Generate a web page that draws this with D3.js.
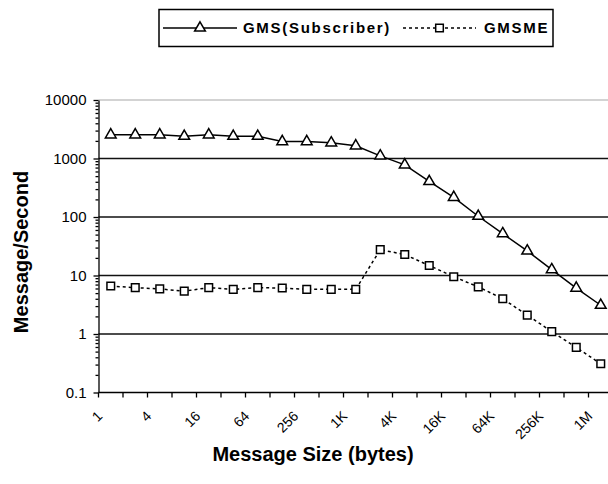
<!DOCTYPE html>
<html>
<head>
<meta charset="utf-8">
<script src="https://d3js.org/d3.v7.min.js"></script>
<style>
  body { margin: 0; background: #fff; }
  svg { display: block; }
  text { font-family: Arial, "Liberation Sans", sans-serif; fill: #000; }
</style>
</head>
<body>
<div id="chart"></div>
<script>
  // message sizes (bytes), one category per power of two
  var sizes = ["1", "2", "4", "8", "16", "32", "64", "128", "256", "512", "1K", "2K", "4K", "8K", "16K", "32K", "64K", "128K", "256K", "512K", "1M"];
  var gmsSubscriber = [2540, 2540, 2540, 2400, 2540, 2400, 2400, 1950, 1950, 1850, 1650, 1110, 780, 405, 217, 103, 52, 26.3, 12.6, 6.1, 3.1];
  var gmsme = [6.6, 6.2, 5.9, 5.4, 6.2, 5.8, 6.2, 6.1, 5.8, 5.8, 5.8, 27.7, 22.8, 14.8, 9.5, 6.4, 4.0, 2.1, 1.1, 0.59, 0.31];
  var yTicks = [0.1, 1, 10, 100, 1000, 10000];
  var seriesNames = ["GMS(Subscriber)", "GMSME"];

  var width = 608, height = 484,
    margin = {top: 100, left: 98.5, bottom: 91.5},
    plotRight = 613;

  var svg = d3.select("#chart").append("svg")
    .attr("width", width)
    .attr("height", height);

  var x = d3.scaleBand().domain(sizes).range([margin.left, plotRight]);
  var y = d3.scaleLog().domain([0.1, 10000]).range([height - margin.bottom, margin.top]);
  var cx = function (d, i) { return x(sizes[i]) + x.bandwidth() / 2; };

  // horizontal gridlines
  svg.append("g").selectAll("line")
    .data(yTicks.slice(1))
    .enter().append("line")
    .attr("x1", margin.left).attr("x2", plotRight)
    .attr("y1", function (d) { return y(d); })
    .attr("y2", function (d) { return y(d); })
    .attr("stroke", function (d) { return d === 10000 ? "#c4c4c4" : "#111"; })
    .attr("stroke-width", function (d) { return d === 10000 ? 1.5 : 1.6; });

  // y axis with minor log ticks
  var minor = [];
  for (var e = -1; e < 4; e++) {
    for (var k = 2; k < 10; k++) minor.push(k * Math.pow(10, e));
  }
  svg.append("g")
    .attr("transform", "translate(" + margin.left + ",0)")
    .call(d3.axisLeft(y).tickValues(minor).tickSize(3).tickFormat(""))
    .call(function (g) { g.select(".domain").remove(); });

  var yAxis = svg.append("g")
    .attr("transform", "translate(" + margin.left + ",0)")
    .call(d3.axisLeft(y).tickValues(yTicks).tickSize(5).tickSizeOuter(0)
      .tickFormat(function (d) { return String(d); }));
  yAxis.selectAll("text").attr("font-size", 15).attr("x", -12).attr("font-family", "Arial, 'Liberation Sans', sans-serif");
  svg.selectAll(".tick line, .domain").attr("stroke", "#000").attr("stroke-width", 1.3);

  // x axis: ticks at category boundaries, labels every other category
  var xBase = y(0.1);
  svg.append("line")
    .attr("x1", margin.left).attr("x2", plotRight)
    .attr("y1", xBase).attr("y2", xBase)
    .attr("stroke", "#000").attr("stroke-width", 1.6);
  svg.append("g").selectAll("line")
    .data(sizes)
    .enter().append("line")
    .attr("x1", function (d) { return x(d); })
    .attr("x2", function (d) { return x(d); })
    .attr("y1", xBase).attr("y2", xBase + 5)
    .attr("stroke", "#000").attr("stroke-width", 1.3);
  svg.append("g").selectAll("text")
    .data(sizes.filter(function (d, i) { return i % 2 === 0; }))
    .enter().append("text")
    .attr("transform", function (d) {
      return "translate(" + (x(d) + x.bandwidth() / 2 - 11) + "," + (xBase + 21) + ") rotate(-45)";
    })
    .attr("text-anchor", "end")
    .attr("dy", "0.35em")
    .attr("font-size", 14)
    .text(function (d) { return d; });

  // series
  var line = d3.line()
    .x(function (d, i) { return cx(d, i); })
    .y(function (d) { return y(d); });

  svg.append("path").datum(gmsSubscriber)
    .attr("d", line).attr("fill", "none")
    .attr("stroke", "#000").attr("stroke-width", 1.5);
  svg.append("path").datum(gmsme)
    .attr("d", line).attr("fill", "none")
    .attr("stroke", "#000").attr("stroke-width", 1.5)
    .attr("stroke-dasharray", "3,3");

  var tri = d3.symbol().type(d3.symbolTriangle).size(50);
  var sq = d3.symbol().type(d3.symbolSquare).size(58);

  svg.append("g").selectAll("path")
    .data(gmsSubscriber)
    .enter().append("path")
    .attr("d", tri)
    .attr("transform", function (d, i) { return "translate(" + cx(d, i) + "," + y(d) + ")"; })
    .attr("fill", "#fff").attr("stroke", "#000").attr("stroke-width", 1.5);
  svg.append("g").selectAll("path")
    .data(gmsme)
    .enter().append("path")
    .attr("d", sq)
    .attr("transform", function (d, i) { return "translate(" + cx(d, i) + "," + y(d) + ")"; })
    .attr("fill", "#fff").attr("stroke", "#000").attr("stroke-width", 1.5);

  // axis titles
  svg.append("text")
    .attr("transform", "translate(21,252) rotate(-90)")
    .attr("text-anchor", "middle").attr("dy", "0.35em")
    .attr("font-size", 20).attr("font-weight", "bold")
    .text("Message/Second");
  svg.append("text")
    .attr("x", 313).attr("y", 461)
    .attr("text-anchor", "middle")
    .attr("font-size", 20).attr("font-weight", "bold")
    .text("Message Size (bytes)");

  // legend
  var legend = svg.append("g");
  legend.append("rect")
    .attr("x", 159).attr("y", 9.5).attr("width", 394).attr("height", 37)
    .attr("fill", "#fff").attr("stroke", "#000").attr("stroke-width", 1.5);
  var items = [
    {name: seriesNames[0], x0: 163, x1: 237, textX: 243, symbol: tri, dash: null},
    {name: seriesNames[1], x0: 403, x1: 476, textX: 484, symbol: sq, dash: "3,3"}
  ];
  items.forEach(function (it) {
    legend.append("line")
      .attr("x1", it.x0).attr("x2", it.x1).attr("y1", 28).attr("y2", 28)
      .attr("stroke", "#000").attr("stroke-width", 1.5)
      .attr("stroke-dasharray", it.dash);
    legend.append("path")
      .attr("d", it.symbol)
      .attr("transform", "translate(" + ((it.x0 + it.x1) / 2) + ",28)")
      .attr("fill", "#fff").attr("stroke", "#000").attr("stroke-width", 1.5);
    legend.append("text")
      .attr("x", it.textX).attr("y", 28).attr("dy", "0.35em")
      .attr("font-size", 15).attr("font-weight", "bold")
      .attr("letter-spacing", 1.7)
      .text(it.name);
  });
</script>
</body>
</html>
